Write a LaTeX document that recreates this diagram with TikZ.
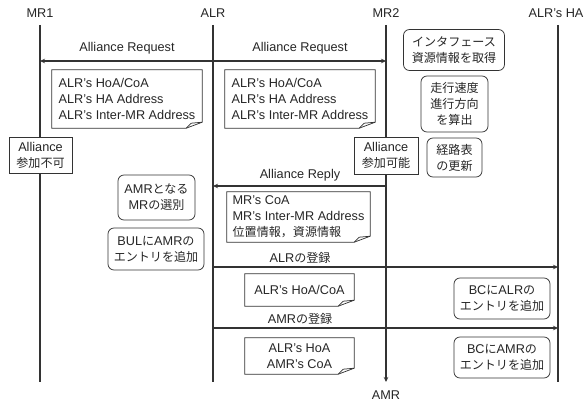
\documentclass[tikz,border=0pt]{standalone}
\usepackage{fontspec}
\setmainfont{Liberation Sans}
\newfontfamily\cjk{Noto Sans CJK JP}[Scale=0.95]
\usetikzlibrary{arrows.meta}
\newcommand\notepath[1]{%
  \draw[noteline] (#1.north west) -- (#1.north east) -- ([yshift=6pt]#1.south east)
    -- ([xshift=-16pt]#1.south east) -- (#1.south west) -- cycle;
  \draw[noteline] ([xshift=-16pt]#1.south east) -- ([xshift=-11pt,yshift=5pt]#1.south east)
    -- ([yshift=6pt]#1.south east);}
\begin{document}
\begin{tikzpicture}[x=1pt,y=-1pt,
  every node/.style={font=\fontsize{12.7}{16}\selectfont, text=black!85, inner sep=0pt},
  life/.style={line width=1.3pt, draw=black!80},
  msg/.style={line width=1.4pt, draw=black!80, -{Stealth[length=5pt,width=4.5pt]}},
  rbox/.style={draw=black!80, line width=0.75pt, rounded corners=6pt, align=center},
  sbox/.style={draw=black!80, line width=0.75pt, align=center, fill=white},
  notebox/.style={align=left},
  notec/.style={align=center},
  noteline/.style={draw=black!80, line width=0.75pt},
]
\useasboundingbox (0,0) rectangle (585,401);

% heads
\node (mr1) at (40,13) {MR1};
\node (alr) at (213,13) {ALR};
\node (mr2) at (386,13) {MR2};
\node (ha) at (556,13) {ALR’s HA};
\node (amr) at (386,395) {AMR};

% lifelines
\coordinate (mr1t) at (40,25);  \coordinate (mr1b) at (40,382);
\coordinate (alrt) at (213,25); \coordinate (alrb) at (213,382);
\coordinate (mr2t) at (386,25); \coordinate (mr2b) at (386,382);
\coordinate (hat) at (558,25);  \coordinate (hab) at (558,382);
\draw[life] (mr1t) -- (mr1b);
\draw[life] (alrt) -- (alrb);
\draw[life, -{Stealth[length=5pt,width=4.5pt]}] (mr2t) -- (mr2b);
\draw[life] (hat) -- (hab);

% message end points
\coordinate (req1) at (40,61);   \coordinate (req2) at (386,61);
\coordinate (rep1) at (386,186); \coordinate (rep2) at (213,186);
\coordinate (reg1) at (213,267); \coordinate (reg2) at (558,267);
\coordinate (amr1) at (213,328); \coordinate (amr2) at (558,328);

\draw[msg, {Stealth[length=5pt,width=4.5pt]}-{Stealth[length=5pt,width=4.5pt]}] (req1) -- (req2);
\draw[msg] (rep1) -- (rep2);
\draw[msg] (reg1) -- (reg2);
\draw[msg] (amr1) -- (amr2);

% message labels
\node (lreq1) at (127,48) {Alliance Request};
\node (lreq2) at (300,48) {Alliance Request};
\node (lrep) at (300,175) {Alliance Reply};
\node (lreg) at (300,258) {ALR{\cjk の登録}};
\node (lamr) at (300,319) {AMR{\cjk の登録}};

% notes
\node[notebox, minimum width=150pt, minimum height=58pt] (n1) at (127,99)
  {ALR’s HoA/CoA\\ALR’s HA Address\\ALR’s Inter-MR Address};
\notepath{n1}
\node[notebox, minimum width=150pt, minimum height=58pt] (n2) at (300,99)
  {ALR’s HoA/CoA\\ALR’s HA Address\\ALR’s Inter-MR Address};
\notepath{n2}
\node[notebox, minimum width=143pt, minimum height=50pt] (n3) at (298.5,217)
  {MR’s CoA\\MR’s Inter-MR Address\\{\cjk 位置情報，資源情報}};
\notepath{n3}
\node[notec, minimum width=109pt, minimum height=32pt] (n4) at (299.5,290)
  {ALR’s HoA/CoA};
\notepath{n4}
\node[notec, minimum width=109pt, minimum height=36pt] (n5) at (299.5,356)
  {ALR’s HoA\\AMR’s CoA};
\notepath{n5}

% process boxes
\node[rbox, minimum width=101pt, minimum height=41pt] (p1) at (454,50)
  {{\cjk インタフェース}\\{\cjk 資源情報を取得}};
\node[rbox, minimum width=67pt, minimum height=56pt] (p2) at (454.5,104)
  {{\cjk 走行速度}\\{\cjk 進行方向}\\{\cjk を算出}};
\node[rbox, minimum width=55pt, minimum height=39pt] (p3) at (454.5,157.5)
  {{\cjk 経路表}\\{\cjk の更新}};
\node[sbox, minimum width=64pt, minimum height=37pt] (s1) at (386,155.5)
  {Alliance\\{\cjk 参加可能}};
\node[sbox, minimum width=63pt, minimum height=36pt] (s2) at (40.5,155)
  {Alliance\\{\cjk 参加不可}};
\node[rbox, minimum width=77pt, minimum height=45pt] (p4) at (156.5,197.5)
  {AMR{\cjk となる}\\MR{\cjk の選別}};
\node[rbox, minimum width=96pt, minimum height=42pt] (p5) at (156,249)
  {BUL{\cjk に}AMR{\cjk の}\\{\cjk エントリを追加}};
\node[rbox, minimum width=96pt, minimum height=41pt] (p6) at (502,298.5)
  {BC{\cjk に}ALR{\cjk の}\\{\cjk エントリを追加}};
\node[rbox, minimum width=96pt, minimum height=41pt] (p7) at (502,357.5)
  {BC{\cjk に}AMR{\cjk の}\\{\cjk エントリを追加}};
\end{tikzpicture}
\end{document}
